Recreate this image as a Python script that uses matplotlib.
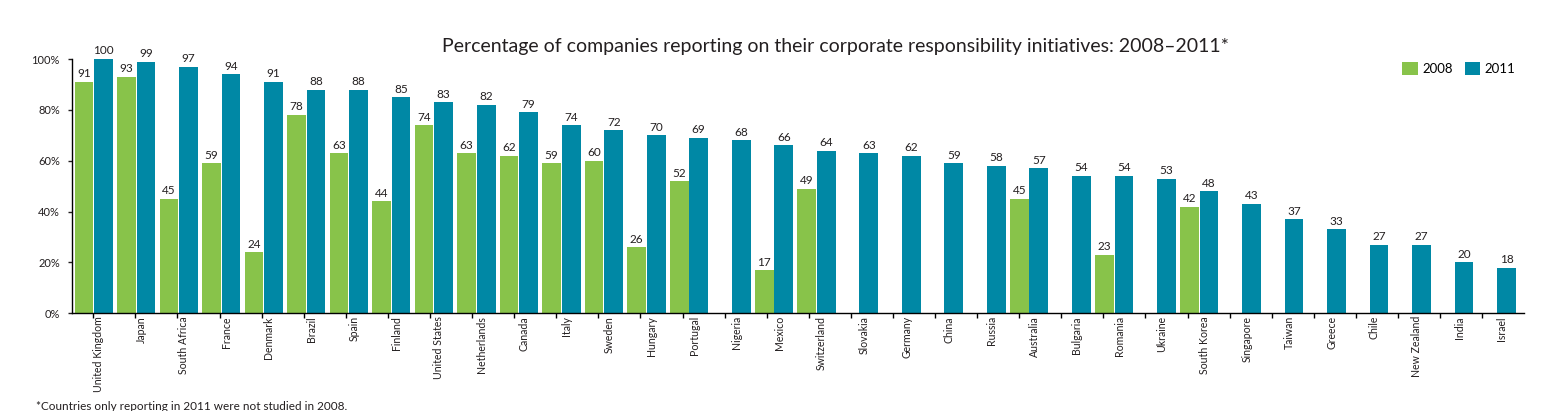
import numpy as np
import matplotlib
matplotlib.use('Agg')
import matplotlib.pyplot as plt

# 数据
countries = ['United Kingdom', 'Japan', 'South Africa', 'France', 'Denmark', 'Brazil',
             'Spain', 'Finland', 'United States', 'Netherlands', 'Canada', 'Italy',
             'Sweden', 'Hungary', 'Portugal', 'Nigeria', 'Mexico', 'Switzerland',
             'Slovakia', 'Germany', 'China', 'Russia', 'Australia', 'Bulgaria',
             'Romania', 'Ukraine', 'South Korea', 'Singapore', 'Taiwan', 'Greece',
             'Chile', 'New Zealand', 'India', 'Israel']
pct_2008 = [91, 93, 45, 59, 24, 78, 63, 44, 74, 63, 62, 59, 60, 26, 52, None, 17, 49,
            None, None, None, None, 45, None, 23, None, 42, None, None, None,
            None, None, None, None]
pct_2011 = [100, 99, 97, 94, 91, 88, 88, 85, 83, 82, 79, 74, 72, 70, 69, 68, 66, 64,
            63, 62, 59, 58, 57, 54, 54, 53, 48, 43, 37, 33, 27, 27, 20, 18]
yticks = [0, 20, 40, 60, 80, 100]

green = '#88C34A'
blue = '#0088A5'
dark = '#231F20'

plt.rcParams['font.family'] = ['Lato', 'DejaVu Sans']

fig = plt.figure(figsize=(15.62, 4.11), dpi=100)
ax = fig.add_axes([0.0463, 0.2377, 0.9296, 0.6187])

x = np.arange(len(countries))
w = 0.44

# 2011 柱
bars11 = ax.bar(x, pct_2011, width=w, color=blue, label='2011', clip_on=False, zorder=2)
# 2008 柱（只画有数据的国家）
idx08 = [i for i, v in enumerate(pct_2008) if v is not None]
vals08 = [pct_2008[i] for i in idx08]
bars08 = ax.bar(x[idx08] - 0.46, vals08, width=w, color=green, label='2008', zorder=2)

# 数值标签
for bar in list(bars11) + list(bars08):
    ax.text(bar.get_x() + bar.get_width() / 2, bar.get_height() + 1.0,
            '{:.0f}'.format(bar.get_height()), ha='center', va='bottom',
            fontsize=8.5, color=dark, clip_on=False)

ax.set_xlim(-0.734, 33.42)
ax.set_ylim(0, 100)
ax.set_yticks(yticks)
ax.set_yticklabels(['{}%'.format(v) for v in yticks])
ax.tick_params(axis='y', length=3, width=1, pad=6, labelsize=8, colors=dark)

ax.set_xticks(x - 0.11)
ax.set_xticklabels(countries, rotation=90, fontsize=7.6, color=dark)
ax.tick_params(axis='x', which='major', length=0, pad=2)
ax.set_xticks(-0.24 + 0.9899 * np.arange(34), minor=True)
ax.tick_params(axis='x', which='minor', length=3.5, width=1, direction='out')

for s in ['top', 'right']:
    ax.spines[s].set_visible(False)
for s in ['left', 'bottom']:
    ax.spines[s].set_linewidth(1)
    ax.spines[s].set_color('black')

fig.text(0.535, 0.886, 'Percentage of companies reporting on their corporate responsibility initiatives: 2008\u20132011*',
         ha='center', va='center', fontsize=14, color=dark)

ax.legend(handles=[bars08, bars11], labels=['2008', '2011'], loc='upper right',
          bbox_to_anchor=(1.0, 1.025), ncol=2, frameon=False, fontsize=9.5,
          handlelength=1.2, handleheight=1.2, handletextpad=0.3, columnspacing=0.9,
          borderpad=0.2)

fig.text(0.023, 0.012, '*Countries only reporting in 2011 were not studied in 2008.',
         ha='left', va='center', fontsize=8.5, color=dark)

fig.savefig('out.png', dpi=100)
